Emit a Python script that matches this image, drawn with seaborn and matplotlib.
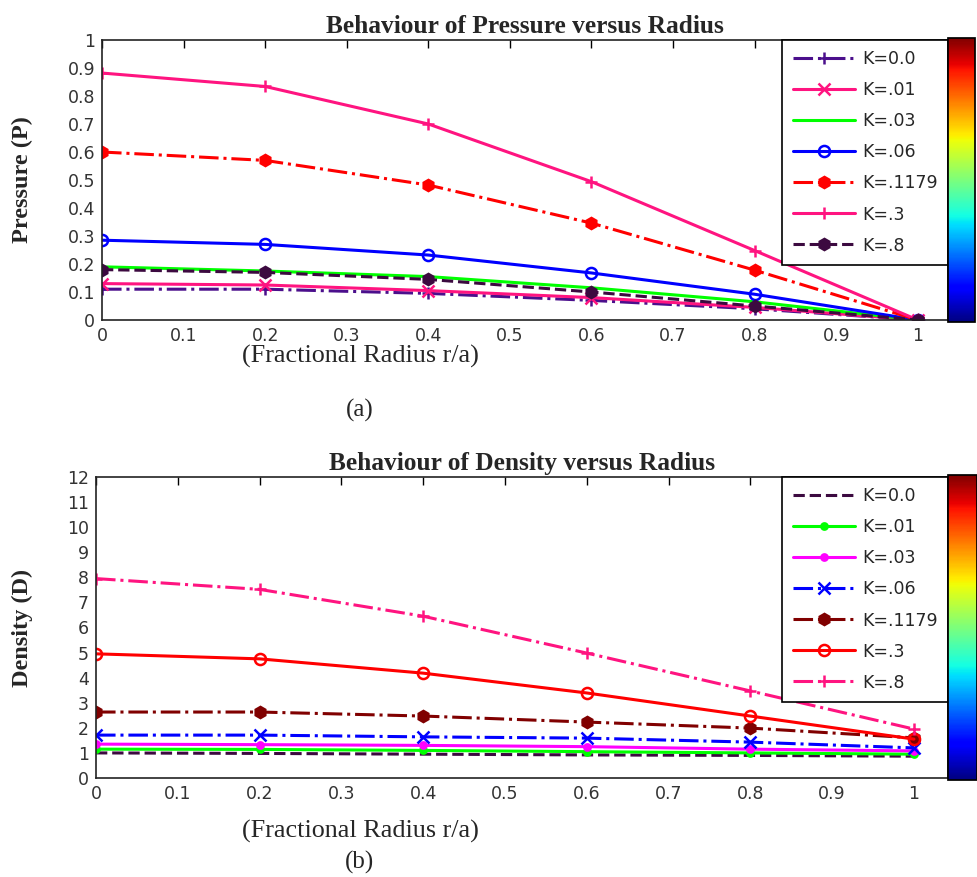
import numpy as np
import pandas as pd
import matplotlib
matplotlib.use("Agg")
import matplotlib.pyplot as plt
import matplotlib.cm as cm
import matplotlib.colors as mcolors
from matplotlib.ticker import MultipleLocator
import seaborn as sns

sns.set_theme(style="white")
plt.rcParams['font.family'] = ['DejaVu Sans']

# data
r = [0, 0.2, 0.4, 0.6, 0.8, 1.0]
k_labels = ['K=0.0', 'K=.01', 'K=.03', 'K=.06', 'K=.1179', 'K=.3', 'K=.8']

p_k00 = [0.11, 0.11, 0.095, 0.07, 0.04, 0.0]
p_k01 = [0.13, 0.125, 0.105, 0.08, 0.045, 0.0]
p_k03 = [0.19, 0.175, 0.155, 0.115, 0.065, 0.0]
p_k06 = [0.285, 0.27, 0.232, 0.168, 0.092, 0.0]
p_k1179 = [0.60, 0.57, 0.482, 0.346, 0.178, 0.0]
p_k3 = [0.882, 0.834, 0.70, 0.494, 0.248, 0.0]
p_k8 = [0.18, 0.17, 0.145, 0.10, 0.05, 0.0]

d_k00 = [1.0, 0.98, 0.95, 0.92, 0.90, 0.87]
d_k01 = [1.15, 1.14, 1.10, 1.05, 1.0, 0.95]
d_k03 = [1.35, 1.33, 1.30, 1.25, 1.15, 1.08]
d_k06 = [1.71, 1.71, 1.64, 1.59, 1.43, 1.20]
d_k1179 = [2.63, 2.63, 2.47, 2.23, 1.99, 1.60]
d_k3 = [4.95, 4.75, 4.18, 3.39, 2.47, 1.55]
d_k8 = [7.95, 7.52, 6.45, 4.98, 3.47, 1.95]

pressure = [p_k00, p_k01, p_k03, p_k06, p_k1179, p_k3, p_k8]
density = [d_k00, d_k01, d_k03, d_k06, d_k1179, d_k3, d_k8]

# styles: (color, linestyle, marker, filled)
p_styles = [
    ('#4b0f8c', '-.', '+', True),
    ('#ff1480', '-', 'x', True),
    ('#00ff00', '-', None, True),
    ('#0000ff', '-', 'o', False),
    ('#ff0000', '-.', 'h', True),
    ('#ff1480', '-', '+', True),
    ('#3c0a40', '--', 'h', True),
]
d_styles = [
    ('#3c0a40', '--', None, True),
    ('#00ff00', '-', '.', True),
    ('#ff00ff', '-', '.', True),
    ('#0000ff', '-.', 'x', True),
    ('#800000', '-.', 'h', True),
    ('#ff0000', '-', 'o', False),
    ('#ff1480', '-.', '+', True),
]

fig = plt.figure(figsize=(9.77, 8.77), dpi=100)
W, H = 977, 877
SERIF = 'Liberation Serif'


def px_axes(left, top, right, bottom):
    return fig.add_axes([left / W, 1 - bottom / H, (right - left) / W, (bottom - top) / H])


def draw_panel(ax, cax, series, styles, ymax, ymajor, yminor, xmax, title, ylabel, caption, caption_y):
    for vals, lab, (col, ls, mk, filled) in zip(series, k_labels, styles):
        df = pd.DataFrame({'r': r, 'v': vals})
        sns.lineplot(data=df, x='r', y='v', ax=ax, color=col, linestyle=ls, lw=2.2,
                     marker=mk, markersize=8 if mk != '.' else 9,
                     markerfacecolor=(col if filled else 'none'),
                     markeredgecolor=col, markeredgewidth=1.8, label=lab)
    ax.set_xlim(0, xmax)
    ax.set_ylim(0, ymax)
    ax.set_xticks(np.arange(0, 1.01, 0.1))
    ax.set_xticklabels(['0'] + ['%.1f' % v for v in np.arange(0.1, 0.95, 0.1)] + ['1'])
    ax.yaxis.set_major_locator(MultipleLocator(ymajor))
    ax.yaxis.set_minor_locator(MultipleLocator(yminor))
    if ymajor < 1:
        yt = np.arange(0, ymax + 1e-9, ymajor)
        ax.set_yticks(yt)
        ax.set_yticklabels(['0'] + ['%.1f' % v for v in yt[1:-1]] + ['1'])
    ax.tick_params(axis='both', which='both', direction='in', top=True, right=False,
                   labelsize=12.5, length=6, width=1, colors='black', pad=5)
    ax.tick_params(axis='y', which='minor', length=4)
    for lbl in ax.get_xticklabels() + ax.get_yticklabels():
        lbl.set_color('#333333')
    for s in ax.spines.values():
        s.set_color('#222222')
        s.set_linewidth(1.2)
    ax.set_title(title, fontsize=18.3, fontweight='bold', family=SERIF, pad=5)
    ax.set_ylabel(ylabel, fontsize=17.5, fontweight='bold', family=SERIF)
    ax.set_xlabel('(Fractional Radius r/a)', fontsize=18.8, family=SERIF)
    leg = ax.legend(loc='upper right', borderaxespad=0, fontsize=12.5, frameon=True,
                    fancybox=False, edgecolor='black', handlelength=3.6, labelspacing=0.75,
                    borderpad=0.6, handletextpad=0.4, framealpha=1)
    leg.get_frame().set_linewidth(1.2)
    sm = cm.ScalarMappable(cmap='jet', norm=mcolors.Normalize(0.5, 64.5))
    cb = fig.colorbar(sm, cax=cax)
    cb.set_ticks([10, 20, 30, 40, 50, 60])
    cax.yaxis.set_ticks_position('left')
    cax.tick_params(direction='in', labelleft=False, labelright=False, length=4, color='black')
    cb.outline.set_edgecolor('black')
    fig.text(360 / W, 1 - caption_y / H, caption, ha='center', va='center',
             fontsize=18, family=SERIF)


ax1 = px_axes(102, 40, 948, 320)
cax1 = px_axes(948, 38, 975, 322)
draw_panel(ax1, cax1, pressure, p_styles, 1.0, 0.1, 0.05, 1.037,
           'Behaviour of Pressure versus Radius', 'Pressure (P)', '(a)', 410)
ax1.xaxis.set_label_coords((360 - 102) / 846, -0.09)
ax1.yaxis.set_label_coords(-(102 - 33) / 846, 0.5)

ax2 = px_axes(96, 477, 948, 778)
cax2 = px_axes(948, 475, 977, 780)
draw_panel(ax2, cax2, density, d_styles, 12, 1, 0.5, 1.0416,
           'Behaviour of Density versus Radius', 'Density (D)', '(b)', 862)
ax2.xaxis.set_label_coords((360 - 96) / 852, -0.138)
ax2.yaxis.set_label_coords(-(96 - 33) / 852, 0.5)

fig.savefig('out.png', dpi=100)
